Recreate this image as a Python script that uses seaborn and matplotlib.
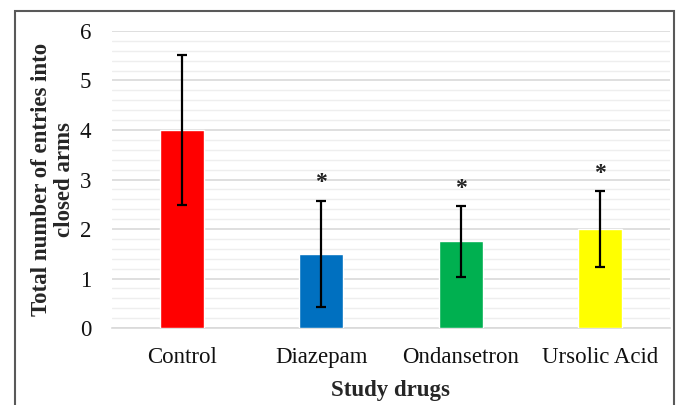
import numpy as np
import pandas as pd
import seaborn as sns
import matplotlib.pyplot as plt
from matplotlib.patches import Rectangle
from matplotlib.ticker import MultipleLocator

# Data
drugs = ["Control", "Diazepam", "Ondansetron", "Ursolic Acid"]
means = [4.0, 1.5, 1.75, 2.0]
errors = [1.52, 1.07, 0.71, 0.76]
significant = [False, True, True, True]
bar_colors = ["#FF0000", "#0070C0", "#00B050", "#FFFF00"]

df = pd.DataFrame({"drug": drugs, "mean": means, "err": errors})

sns.set_style("white")
plt.rcParams["font.family"] = ["Liberation Serif", "DejaVu Serif"]

fig = plt.figure(figsize=(6.78, 4.05), dpi=100)
ax = fig.add_axes([0.165, 0.19, 0.823, 0.7335])

# Bars
sns.barplot(data=df, x="drug", y="mean", hue="drug", palette=bar_colors,
            saturation=1, width=0.315, errorbar=None, legend=False, ax=ax,
            zorder=3)

# Error bars from the data
ax.errorbar(np.arange(len(drugs)), df["mean"], yerr=df["err"], fmt="none",
            ecolor="black", elinewidth=1.6, capsize=3.5, capthick=1.6, zorder=4)

# Asterisks above significant bars
for i, (m, e, s) in enumerate(zip(means, errors, significant)):
    if s:
        ax.text(i, m + e + 0.36, "*", ha="center", va="center", fontsize=17,
                fontweight="bold", color="#222222")

# Axes and grid
ax.set_xlim(-0.5, len(drugs) - 0.5)
ax.set_ylim(0, 6)
ax.yaxis.set_major_locator(MultipleLocator(1))
ax.yaxis.set_minor_locator(MultipleLocator(0.2))
ax.grid(axis="y", which="major", color="#d9d9d9", linewidth=1.2, zorder=0)
ax.grid(axis="y", which="minor", color="#eeeeee", linewidth=1.0, zorder=0)
ax.set_axisbelow(True)
for side in ["top", "right", "left"]:
    ax.spines[side].set_visible(False)
ax.spines["bottom"].set_color("#d9d9d9")
ax.spines["bottom"].set_linewidth(1.2)
ax.tick_params(axis="both", which="both", length=0, colors="#111111")
ax.tick_params(axis="x", pad=14, labelsize=16.5)
ax.tick_params(axis="y", pad=15, labelsize=16.5)

ax.set_xlabel("Study drugs", fontsize=16.5, fontweight="bold", labelpad=8)
ax.set_ylabel("Total number of entries into\nclosed arms", fontsize=16.5,
              fontweight="bold", labelpad=3, linespacing=1.15)

# Outer frame around the chart
fig.patches.append(Rectangle((0.022, -0.02), 0.972, 0.993, transform=fig.transFigure,
                             fill=False, edgecolor="#595959", linewidth=1.5))

fig.savefig("out.png", dpi=100)
